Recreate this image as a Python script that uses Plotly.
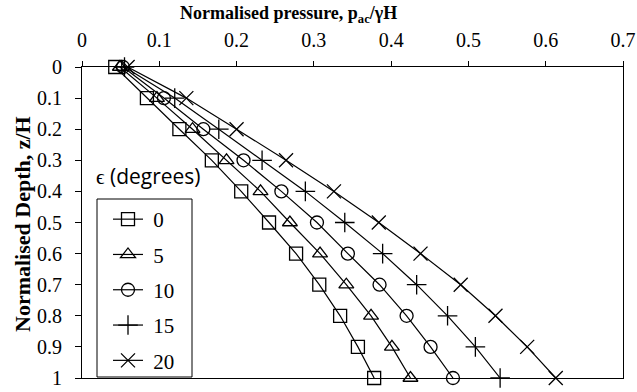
import plotly.graph_objects as go

depth = [0, 0.1, 0.2, 0.3, 0.4, 0.5, 0.6, 0.7, 0.8, 0.9, 1.0]
eps_labels = ["0", "5", "10", "15", "20"]
p_eps0 = [0.043, 0.084, 0.126, 0.168, 0.206, 0.242, 0.277, 0.307, 0.334, 0.357, 0.378]
p_eps5 = [0.049, 0.097, 0.143, 0.187, 0.231, 0.269, 0.308, 0.342, 0.374, 0.401, 0.425]
p_eps10 = [0.053, 0.106, 0.157, 0.209, 0.258, 0.304, 0.344, 0.385, 0.420, 0.451, 0.480]
p_eps15 = [0.055, 0.120, 0.177, 0.233, 0.289, 0.340, 0.389, 0.433, 0.473, 0.509, 0.541]
p_eps20 = [0.059, 0.135, 0.200, 0.264, 0.326, 0.384, 0.438, 0.490, 0.535, 0.576, 0.613]
series = [p_eps0, p_eps5, p_eps10, p_eps15, p_eps20]
symbols = ["square-open", "triangle-up-open", "circle-open", "cross-thin-open", "x-thin-open"]
sizes = [13, 13, 13, 14, 14]

serif = "Liberation Serif, Times New Roman, serif"

# plot-area pixel geometry
L, R, T, B = 82, 14, 67, 14
PW, PH = 637 - L - R, 392 - T - B


def px(xp):
    return (xp - L) / PW


def py(yp):
    return (392 - B - yp) / PH


fig = go.Figure()
for i, (lab, vals) in enumerate(zip(eps_labels, series)):
    fig.add_trace(go.Scatter(
        x=vals, y=depth, name="\u00a0" + lab, mode="lines+markers",
        legendgroup=lab,
        line=dict(color="black", width=1.2),
        marker=dict(symbol=symbols[i], size=sizes[i], color="black",
                    line=dict(color="black", width=1.3)),
        cliponaxis=False,
    ))

fig.update_layout(
    width=637, height=392,
    margin=dict(l=L, r=R, t=T, b=B, autoexpand=False),
    plot_bgcolor="white", paper_bgcolor="white",
    font=dict(family=serif, size=20, color="black"),
    showlegend=True,
    legend=dict(
        x=px(108), y=py(199), xanchor="left", yanchor="top",
        borderwidth=0, bgcolor="rgba(255,255,255,0)",
        font=dict(family=serif, size=21, color="black"),
        tracegroupgap=5, traceorder="grouped",
    ),
    xaxis=dict(
        range=[0, 0.7], side="top", dtick=0.1, tickformat="~g",
        showgrid=False, zeroline=False,
        showline=True, linecolor="black", linewidth=1, mirror=True,
        ticks="outside", ticklen=5, tickcolor="black",
        ticklabelstandoff=6,
        tickfont=dict(family=serif, size=20),
    ),
    yaxis=dict(
        range=[1, 0], dtick=0.1, tickformat="~g",
        showgrid=False, zeroline=False,
        showline=True, linecolor="black", linewidth=1, mirror=True,
        ticks="outside", ticklen=6, tickcolor="black",
        ticklabelstandoff=9,
        tickfont=dict(family=serif, size=20),
    ),
    shapes=[
        dict(type="rect", xref="paper", yref="paper",
             x0=px(97), x1=px(192), y0=py(377), y1=py(199),
             line=dict(color="black", width=1), fillcolor="rgba(0,0,0,0)"),
    ],
    annotations=[
        dict(text="<b>Normalised pressure, p<sub>ac</sub>/γH</b>", xref="paper", yref="paper",
             x=px(288), y=py(15), xanchor="center", yanchor="middle",
             showarrow=False, font=dict(family=serif, size=18)),
        dict(text="<b>Normalised Depth, z/H</b>", xref="paper", yref="paper",
             x=px(22), y=py(224), xanchor="center", yanchor="middle",
             textangle=-90, showarrow=False, font=dict(family=serif, size=22)),
        dict(text="ϵ (degrees)", xref="paper", yref="paper",
             x=px(94), y=py(176), xanchor="left", yanchor="middle",
             showarrow=False, font=dict(family="Open Sans", size=21)),
    ],
)

fig.write_html("out.html")
